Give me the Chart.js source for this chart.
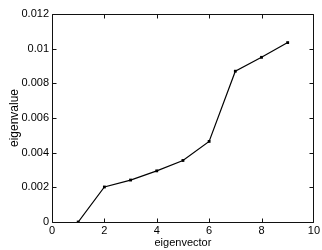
<!DOCTYPE html>
<html><head><meta charset="utf-8">
<script src="https://cdn.jsdelivr.net/npm/chart.js@4/dist/chart.umd.min.js"></script>
<style>html,body{margin:0;padding:0;background:#fff}#wrap{width:322px;height:250px}</style>
</head><body><div id="wrap"><canvas id="c" width="322" height="250"></canvas></div>
<script>
const eigenvectors = [1, 2, 3, 4, 5, 6, 7, 8, 9];
const eigenvalues = [0, 0.00202, 0.00242, 0.00295, 0.00355, 0.00465, 0.0087, 0.0095, 0.01035];
const xTicks = [0, 2, 4, 6, 8, 10];
const yTicks = [0, 0.002, 0.004, 0.006, 0.008, 0.01, 0.012];
const xTitle = 'eigenvector';
const yTitle = 'eigenvalue';

const FONT = 'Liberation Sans, Arial, Helvetica, sans-serif';

const boxPlugin = {
  id: 'box',
  afterDraw(chart) {
    const {ctx, scales: {x, y}} = chart;
    const l = Math.round(x.getPixelForValue(0)) + 0.5;
    const r = Math.round(x.getPixelForValue(10)) - 0.5;
    const t = Math.round(y.getPixelForValue(0.012)) + 0.5;
    const b = Math.round(y.getPixelForValue(0)) + 0.5;
    ctx.save();
    ctx.strokeStyle = '#111';
    ctx.lineWidth = 1;
    ctx.beginPath();
    const L = 4;
    xTicks.forEach(v => {
      let px = Math.round(x.getPixelForValue(v)) + 0.5;
      if (v === 10) px = r;
      ctx.moveTo(px, b); ctx.lineTo(px, b - L);
      ctx.moveTo(px, t); ctx.lineTo(px, t + L);
    });
    yTicks.forEach(v => {
      const py = Math.round(y.getPixelForValue(v)) + 0.5;
      ctx.moveTo(l, py); ctx.lineTo(l + L, py);
      ctx.moveTo(r, py); ctx.lineTo(r - L, py);
    });
    ctx.moveTo(l, t); ctx.lineTo(r, t); ctx.lineTo(r, b); ctx.lineTo(l, b); ctx.closePath();
    ctx.stroke();
    ctx.restore();
  }
};

new Chart(document.getElementById('c'), {
  type: 'line',
  data: {
    datasets: [{
      data: eigenvectors.map((v, i) => ({x: v, y: eigenvalues[i]})),
      borderColor: '#000',
      backgroundColor: '#000',
      borderWidth: 1.2,
      pointRadius: 2,
      pointStyle: 'rect',
      pointBorderWidth: 0,
      tension: 0,
      fill: false
    }]
  },
  options: {
    responsive: false,
    animation: false,
    layout: {padding: {top: 14, right: 6, left: 0, bottom: 0}},
    plugins: {legend: {display: false}, tooltip: {enabled: false}},
    scales: {
      x: {
        type: 'linear', min: 0, max: 10,
        afterBuildTicks: s => { s.ticks = xTicks.map(v => ({value: v})); },
        afterFit: s => { s.height = 28; },
        grid: {display: false, drawTicks: false},
        border: {display: false},
        ticks: {padding: 2, color: '#000', font: {family: FONT, size: 11}, maxRotation: 0,
          callback: v => String(v)},
        title: {display: true, text: xTitle, color: '#000', font: {family: FONT, size: 11}, padding: {top: 0, bottom: 0}}
      },
      y: {
        type: 'linear', min: 0, max: 0.012,
        afterBuildTicks: s => { s.ticks = yTicks.map(v => ({value: v})); },
        afterFit: s => { s.width = 52; },
        grid: {display: false, drawTicks: false},
        border: {display: false},
        ticks: {padding: 3, color: '#000', font: {family: FONT, size: 11},
          callback: v => String(+v.toFixed(3))},
        title: {display: true, text: yTitle, color: '#000', font: {family: FONT, size: 12}, padding: {top: 7, bottom: 0}}
      }
    }
  },
  plugins: [boxPlugin]
});
</script></body></html>
